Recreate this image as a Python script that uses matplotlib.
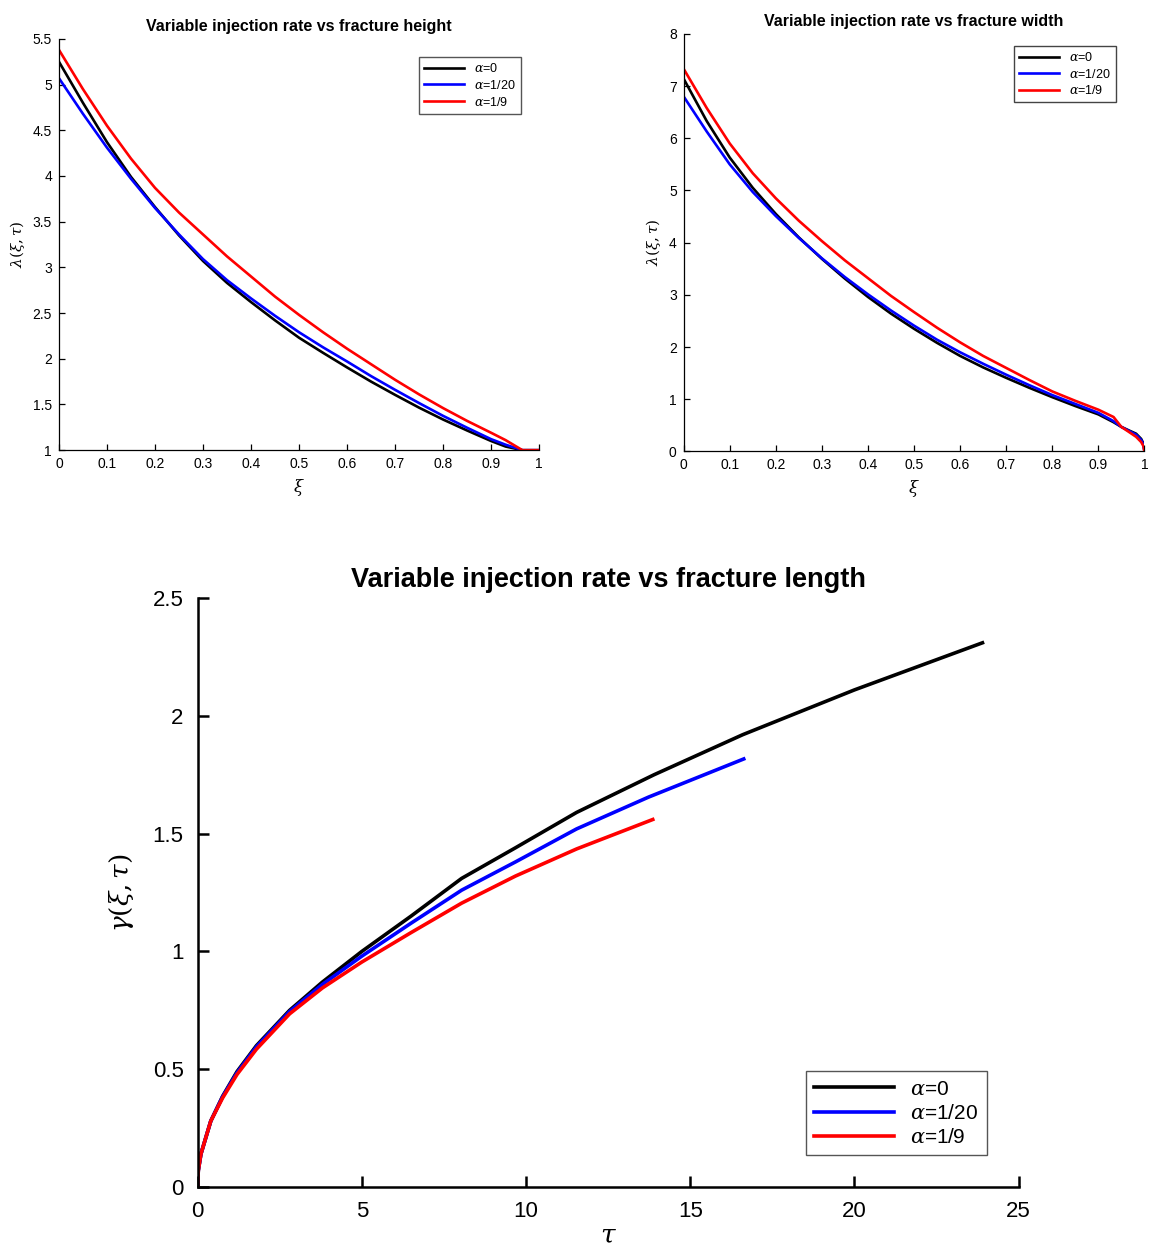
import matplotlib.pyplot as plt

plt.rcParams['font.family'] = ['Liberation Sans', 'DejaVu Sans']
plt.rcParams['mathtext.fontset'] = 'dejavuserif'

labels = [r'$\alpha$=0', r'$\alpha$=1/20', r'$\alpha$=1/9']
colors = ['black', 'blue', 'red']

# fracture height: lambda vs xi
xi_h = [0, 0.05, 0.1, 0.15, 0.2, 0.25, 0.3, 0.35, 0.4, 0.45, 0.5, 0.55, 0.6, 0.65,
        0.7, 0.75, 0.8, 0.85, 0.9, 0.93, 0.965, 1.0]
h_a0 = [5.25, 4.80, 4.37, 3.99, 3.66, 3.35, 3.07, 2.83, 2.62, 2.42, 2.23, 2.065, 1.905, 1.75,
        1.605, 1.465, 1.335, 1.215, 1.10, 1.04, 1.0, 1.0]
h_a20 = [5.07, 4.68, 4.31, 3.97, 3.65, 3.36, 3.09, 2.86, 2.66, 2.47, 2.29, 2.125, 1.97, 1.81,
         1.66, 1.515, 1.375, 1.245, 1.12, 1.06, 1.0, 1.0]
h_a9 = [5.38, 4.95, 4.55, 4.19, 3.87, 3.60, 3.36, 3.12, 2.90, 2.68, 2.48, 2.29, 2.11, 1.94,
        1.77, 1.61, 1.46, 1.32, 1.19, 1.11, 1.0, 1.0]

# fracture width: lambda vs xi
xi_w = [0, 0.05, 0.1, 0.15, 0.2, 0.25, 0.3, 0.35, 0.4, 0.45, 0.5, 0.55, 0.6, 0.65, 0.7,
        0.75, 0.8, 0.85, 0.9, 0.933, 0.95, 0.967, 0.982, 0.993, 0.998, 1.0]
w_a0 = [7.14, 6.33, 5.63, 5.05, 4.55, 4.10, 3.69, 3.31, 2.96, 2.64, 2.35, 2.08, 1.83, 1.61, 1.41,
        1.22, 1.04, 0.87, 0.71, 0.56, 0.47, 0.40, 0.34, 0.24, 0.15, 0.0]
w_a20 = [6.80, 6.13, 5.50, 4.97, 4.51, 4.09, 3.70, 3.34, 3.01, 2.70, 2.41, 2.14, 1.90, 1.68, 1.47,
         1.27, 1.08, 0.91, 0.74, 0.58, 0.47, 0.39, 0.32, 0.22, 0.13, 0.0]
w_a9 = [7.33, 6.58, 5.90, 5.33, 4.85, 4.42, 4.03, 3.66, 3.32, 2.98, 2.67, 2.37, 2.09, 1.83, 1.60,
        1.37, 1.15, 0.97, 0.80, 0.66, 0.47, 0.37, 0.28, 0.18, 0.10, 0.0]

# fracture length: gamma vs tau
tau_a0 = [0, 0.02, 0.1, 0.4, 0.76, 1.2, 1.79, 2.8, 3.8, 5, 6.5, 8.04, 9.68, 11.54, 13.9, 16.6, 20.0, 23.9]
len_a0 = [0, 0.07, 0.14, 0.28, 0.385, 0.49, 0.60, 0.75, 0.87, 1.0, 1.15, 1.31, 1.44, 1.59, 1.75, 1.92, 2.11, 2.31]
tau_a20 = [0, 0.02, 0.1, 0.4, 0.76, 1.2, 1.79, 2.8, 3.8, 5, 6.5, 8.04, 9.68, 11.54, 13.73, 16.63]
len_a20 = [0, 0.07, 0.14, 0.28, 0.383, 0.485, 0.595, 0.745, 0.86, 0.98, 1.12, 1.26, 1.38, 1.52, 1.655, 1.817]
tau_a9 = [0, 0.02, 0.1, 0.4, 0.76, 1.2, 1.79, 2.8, 3.8, 5, 6.5, 8.04, 9.68, 11.54, 13.86]
len_a9 = [0, 0.07, 0.14, 0.28, 0.378, 0.478, 0.585, 0.735, 0.845, 0.955, 1.08, 1.205, 1.32, 1.435, 1.56]


def style(ax, lw):
    ax.spines['top'].set_visible(False)
    ax.spines['right'].set_visible(False)
    ax.spines['left'].set_linewidth(lw)
    ax.spines['bottom'].set_linewidth(lw)
    ax.tick_params(direction='in', width=lw)


fig = plt.figure(figsize=(11.49, 12.54), dpi=100)
xt = [i / 10 for i in range(11)]
xtl = ['0'] + ['%.1f' % (i / 10) for i in range(1, 10)] + ['1']

# top left
ax1 = fig.add_axes([0.0513, 0.641, 0.418, 0.328])
for y, c, l in zip([h_a0, h_a20, h_a9], colors, labels):
    ax1.plot(xi_h, y, color=c, lw=1.9, label=l)
ax1.set_xlim(0, 1)
ax1.set_ylim(1, 5.5)
ax1.set_xticks(xt)
ax1.set_xticklabels(xtl)
ax1.set_yticks([1, 1.5, 2, 2.5, 3, 3.5, 4, 4.5, 5, 5.5])
ax1.set_yticklabels(['1', '1.5', '2', '2.5', '3', '3.5', '4', '4.5', '5', '5.5'])
ax1.tick_params(labelsize=10, length=4, pad=5)
style(ax1, 0.9)
ax1.set_title('Variable injection rate vs fracture height', fontsize=11.5, fontweight='bold', pad=6)
ax1.set_xlabel(r'$\xi$', fontsize=12)
ax1.set_ylabel(r'$\lambda(\xi,\tau)$', fontsize=11)
ax1.legend(loc='upper right', bbox_to_anchor=(0.975, 0.971), fontsize=9, fancybox=False,
           edgecolor='#555555', framealpha=1, handlelength=3.2, borderpad=0.4, labelspacing=0.3)

# top right
ax2 = fig.add_axes([0.595, 0.640, 0.401, 0.333])
for y, c, l in zip([w_a0, w_a20, w_a9], colors, labels):
    ax2.plot(xi_w, y, color=c, lw=1.9, label=l)
ax2.set_xlim(0, 1)
ax2.set_ylim(0, 8)
ax2.set_xticks(xt)
ax2.set_xticklabels(xtl)
ax2.set_yticks(range(9))
ax2.tick_params(labelsize=10, length=4, pad=5)
style(ax2, 0.9)
ax2.set_title('Variable injection rate vs fracture width', fontsize=11.5, fontweight='bold', pad=6)
ax2.set_xlabel(r'$\xi$', fontsize=12)
ax2.set_ylabel(r'$\lambda(\xi,\tau)$', fontsize=11)
ax2.legend(loc='upper right', bbox_to_anchor=(0.952, 0.986), fontsize=9, fancybox=False,
           edgecolor='#444444', framealpha=1, handlelength=3.2, borderpad=0.4, labelspacing=0.3)

# bottom
ax3 = fig.add_axes([0.172, 0.0534, 0.7145, 0.4697])
ax3.plot(tau_a0, len_a0, color='black', lw=2.6, label=labels[0])
ax3.plot(tau_a20, len_a20, color='blue', lw=2.6, label=labels[1])
ax3.plot(tau_a9, len_a9, color='red', lw=2.6, label=labels[2])
ax3.set_xlim(0, 25)
ax3.set_ylim(0, 2.5)
ax3.set_xticks([0, 5, 10, 15, 20, 25])
ax3.set_yticks([0, 0.5, 1, 1.5, 2, 2.5])
ax3.set_yticklabels(['0', '0.5', '1', '1.5', '2', '2.5'])
ax3.tick_params(labelsize=16, length=8, pad=10)
style(ax3, 1.8)
ax3.set_title('Variable injection rate vs fracture length', fontsize=19.5, fontweight='bold', pad=8)
ax3.set_xlabel(r'$\tau$', fontsize=19, labelpad=1)
ax3.set_ylabel(r'$\gamma(\xi,\tau)$', fontsize=19, labelpad=12)
ax3.legend(loc='lower right', bbox_to_anchor=(0.974, 0.036), fontsize=15, fancybox=False,
           edgecolor='#555555', framealpha=1, handlelength=3.8, borderpad=0.4, labelspacing=0.25)

fig.savefig('out.png', dpi=100)
